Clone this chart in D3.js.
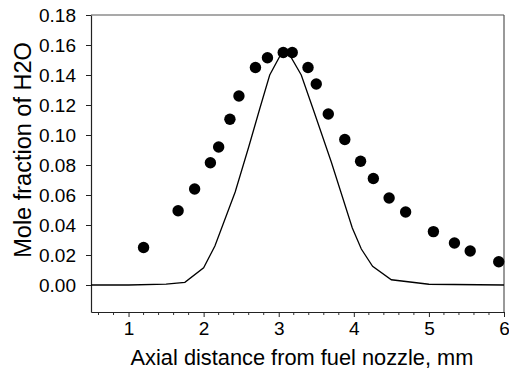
<!DOCTYPE html>
<html>
<head>
<meta charset="utf-8">
<script src="https://cdn.jsdelivr.net/npm/d3@7"></script>
<style>
  body { margin: 0; background: #fff; }
  svg { display: block; font-family: "Liberation Sans", Arial, sans-serif; }
</style>
</head>
<body>
<div id="chart"></div>
<script>
// measured points (dots)
const measX = [1.2, 1.66, 1.88, 2.09, 2.2, 2.35, 2.47, 2.69, 2.85, 3.06, 3.18, 3.39, 3.5, 3.66, 3.88, 4.09, 4.26, 4.47, 4.69, 5.06, 5.34, 5.55, 5.93];
const measY = [0.025, 0.0495, 0.064, 0.0815, 0.092, 0.1105, 0.126, 0.145, 0.1515, 0.155, 0.155, 0.145, 0.134, 0.114, 0.097, 0.0825, 0.071, 0.058, 0.0487, 0.0356, 0.028, 0.0227, 0.0155];

// model curve (line)
const modelX = [0.5, 1.0, 1.5, 1.75, 2.0, 2.15, 2.42, 2.6, 2.75, 2.88, 3.02, 3.1, 3.15, 3.3, 3.46, 3.7, 3.98, 4.1, 4.25, 4.5, 5.0, 6.0];
const modelY = [0, 0, 0.0006, 0.0018, 0.0115, 0.026, 0.062, 0.092, 0.118, 0.14, 0.153, 0.155, 0.153, 0.14, 0.117, 0.082, 0.038, 0.024, 0.0125, 0.0035, 0.0005, 0];

const xTicks = [1, 2, 3, 4, 5, 6];
const xMinorTicks = d3.range(0.6, 6.0001, 0.2);
const yTicks = [0, 0.02, 0.04, 0.06, 0.08, 0.10, 0.12, 0.14, 0.16, 0.18];

const W = 509, H = 376;
const mLeft = 91, mRight = 504, mTop = 15, mBottom = 312;

const svg = d3.select("#chart").append("svg")
  .attr("width", W)
  .attr("height", H);

const x = d3.scaleLinear().domain([0.5, 6]).range([mLeft, mRight]);
const y = d3.scaleLinear().domain([-0.018, 0.18]).range([mBottom, mTop]);

// frame: top and right
svg.append("line")
  .attr("x1", mLeft).attr("x2", mRight).attr("y1", mTop).attr("y2", mTop)
  .attr("stroke", "#555").attr("stroke-width", 1.2);
svg.append("line")
  .attr("x1", mRight).attr("x2", mRight).attr("y1", mTop).attr("y2", mBottom)
  .attr("stroke", "#555").attr("stroke-width", 1.2);

// x minor ticks
const xAxis = svg.append("g").attr("transform", "translate(0," + mBottom + ")");
xAxis.selectAll("line.minor")
  .data(xMinorTicks.filter(v => !xTicks.some(t => Math.abs(t - v) < 1e-6)))
  .enter().append("line")
  .attr("class", "minor")
  .attr("x1", d => x(d)).attr("x2", d => x(d))
  .attr("y1", 0).attr("y2", 3)
  .attr("stroke", "#333");

xAxis.call(d3.axisBottom(x).tickValues(xTicks).tickFormat(d3.format("d")).tickSizeInner(5).tickSizeOuter(0).tickPadding(5))
  .call(g => g.select(".domain").attr("stroke", "#222").attr("stroke-width", 1.2))
  .call(g => g.selectAll(".tick line").attr("stroke", "#222"))
  .call(g => g.selectAll(".tick text").attr("font-size", 19).attr("font-family", "Liberation Sans, Arial, sans-serif").attr("fill", "#000"));

const yAxis = svg.append("g").attr("transform", "translate(" + mLeft + ",0)");
yAxis.call(d3.axisLeft(y).tickValues(yTicks).tickFormat(d3.format(".2f")).tickSizeInner(5).tickSizeOuter(0).tickPadding(10))
  .call(g => g.select(".domain").attr("stroke", "#222").attr("stroke-width", 1.2))
  .call(g => g.selectAll(".tick line").attr("stroke", "#222"))
  .call(g => g.selectAll(".tick text").attr("font-size", 19).attr("font-family", "Liberation Sans, Arial, sans-serif").attr("fill", "#000"));

// model line
const lineData = modelX.map((v, i) => [v, modelY[i]]);
svg.append("path")
  .datum(lineData)
  .attr("fill", "none")
  .attr("stroke", "#000")
  .attr("stroke-width", 1.3)
  .attr("d", d3.line().x(d => x(d[0])).y(d => y(d[1])));

// measured dots
svg.selectAll("circle.pt")
  .data(measX.map((v, i) => [v, measY[i]]))
  .enter().append("circle")
  .attr("class", "pt")
  .attr("cx", d => x(d[0]))
  .attr("cy", d => y(d[1]))
  .attr("r", 5.7)
  .attr("fill", "#000");

// axis titles
svg.append("text")
  .attr("x", 302)
  .attr("y", 365)
  .attr("text-anchor", "middle")
  .attr("font-size", 21.8)
  .text("Axial distance from fuel nozzle, mm");

svg.append("text")
  .attr("transform", "translate(31," + y(0.09) + ") rotate(-90)")
  .attr("text-anchor", "middle")
  .attr("font-size", 23.5)
  .text("Mole fraction of H2O");
</script>
</body>
</html>
